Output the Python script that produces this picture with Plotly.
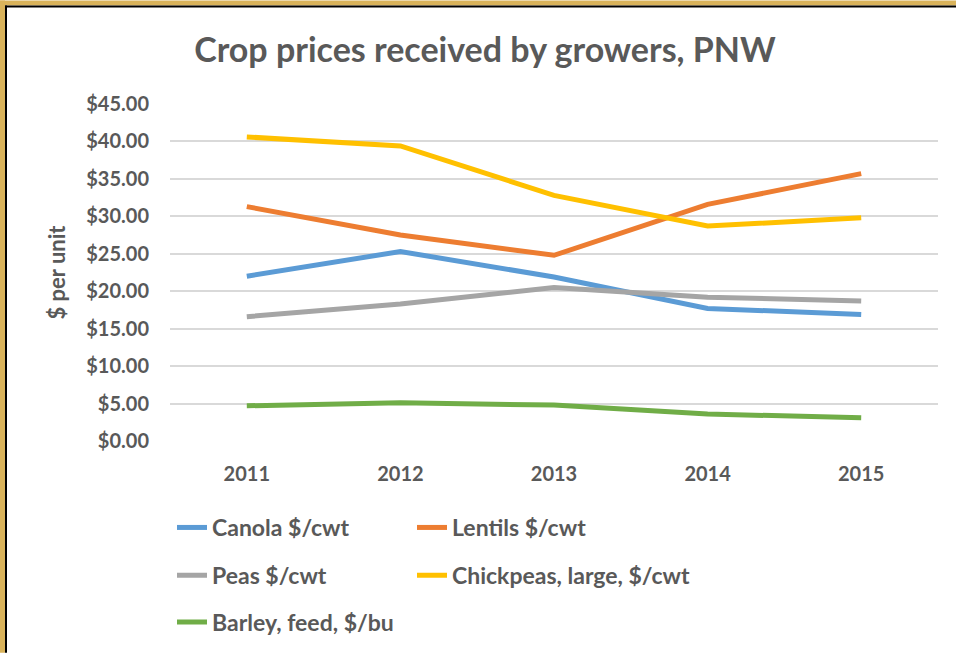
import plotly.graph_objects as go

years = ["2011", "2012", "2013", "2014", "2015"]
canola = [22.0, 25.3, 21.9, 17.7, 16.9]
lentils = [31.3, 27.5, 24.8, 31.6, 35.7]
peas = [16.6, 18.3, 20.5, 19.2, 18.7]
chickpeas = [40.6, 39.4, 32.8, 28.7, 29.8]
barley = [4.7, 5.1, 4.8, 3.6, 3.1]
y_ticks = [0, 5, 10, 15, 20, 25, 30, 35, 40, 45]
y_tick_labels = ["$%.2f" % v for v in y_ticks]

W, H = 956, 656
L, R, T, B = 170, 18, 104, 213
pw, ph = W - L - R, H - T - B

FONT = "Lato"
TXT = "#595959"

series = [
    ("Canola $/cwt", canola, "#5B9BD5", "legend"),
    ("Lentils $/cwt", lentils, "#ED7D31", "legend2"),
    ("Peas $/cwt", peas, "#A5A5A5", "legend3"),
    ("Chickpeas, large, $/cwt", chickpeas, "#FFC000", "legend4"),
    ("Barley, feed, $/bu", barley, "#70AD47", "legend5"),
]

fig = go.Figure()
for name, vals, color, lg in series:
    fig.add_trace(go.Scatter(
        x=years, y=vals, name=name, mode="lines",
        line=dict(color=color, width=5), legend=lg,
    ))

def px_x(p):
    return (p - L) / pw

def px_y(p):
    return (H - B - p) / ph

legend_common = dict(
    orientation="h", xanchor="left", yanchor="middle",
    font=dict(family=FONT, size=23, color=TXT, weight="bold"),
    bgcolor="rgba(0,0,0,0)",
)
col1, col2 = px_x(172), px_x(412)
row1, row2, row3 = px_y(530), px_y(578), px_y(625)

fig.update_layout(
    width=W, height=H,
    margin=dict(l=L, r=R, t=T, b=B),
    paper_bgcolor="white", plot_bgcolor="white",
    title=dict(text="<b>Crop prices received by growers, PNW</b>",
               x=px_x(485), xanchor="center", xref="paper",
               y=1 - 50 / H, yanchor="middle",
               font=dict(family=FONT, size=34, color=TXT)),
    showlegend=True,
    legend=dict(x=col1, y=row1, **legend_common),
    legend2=dict(x=col2, y=row1, **legend_common),
    legend3=dict(x=col1, y=row2, **legend_common),
    legend4=dict(x=col2, y=row2, **legend_common),
    legend5=dict(x=col1, y=row3, **legend_common),
    xaxis=dict(type="category", range=[-0.5, 4.5], showgrid=False,
               zeroline=False, showline=False, ticks="",
               tickfont=dict(family=FONT, size=20, color=TXT, weight="bold"),
               ticklabelstandoff=19),
    yaxis=dict(range=[0, 45], tickvals=y_ticks, ticktext=y_tick_labels,
               showgrid=True, gridcolor="#D9D9D9", gridwidth=1.5,
               zeroline=False, showline=False, ticks="",
               tickfont=dict(family=FONT, size=20, color=TXT, weight="bold"),
               ticklabelstandoff=20,
               title=dict(text="$ per unit", standoff=14,
                          font=dict(family=FONT, size=22, color=TXT, weight="bold"))),
    shapes=[
        dict(type="rect", xref="paper", yref="paper",
             x0=px_x(0), x1=px_x(5), y0=px_y(656), y1=px_y(0),
             fillcolor="#D9B35B", line=dict(width=0), layer="above"),
        dict(type="rect", xref="paper", yref="paper",
             x0=px_x(0), x1=px_x(956), y0=px_y(5), y1=px_y(0),
             fillcolor="#D9B35B", line=dict(width=0), layer="above"),
        dict(type="rect", xref="paper", yref="paper",
             x0=px_x(5), x1=px_x(7), y0=px_y(656), y1=px_y(5),
             fillcolor="#000000", line=dict(width=0), layer="above"),
        dict(type="rect", xref="paper", yref="paper",
             x0=px_x(5), x1=px_x(956), y0=px_y(7), y1=px_y(5),
             fillcolor="#000000", line=dict(width=0), layer="above"),
    ],
)

fig.write_html(
    "out.html",
    config={"displayModeBar": False},
    post_script="document.body.style.margin='0';document.body.style.overflow='hidden';",
)
